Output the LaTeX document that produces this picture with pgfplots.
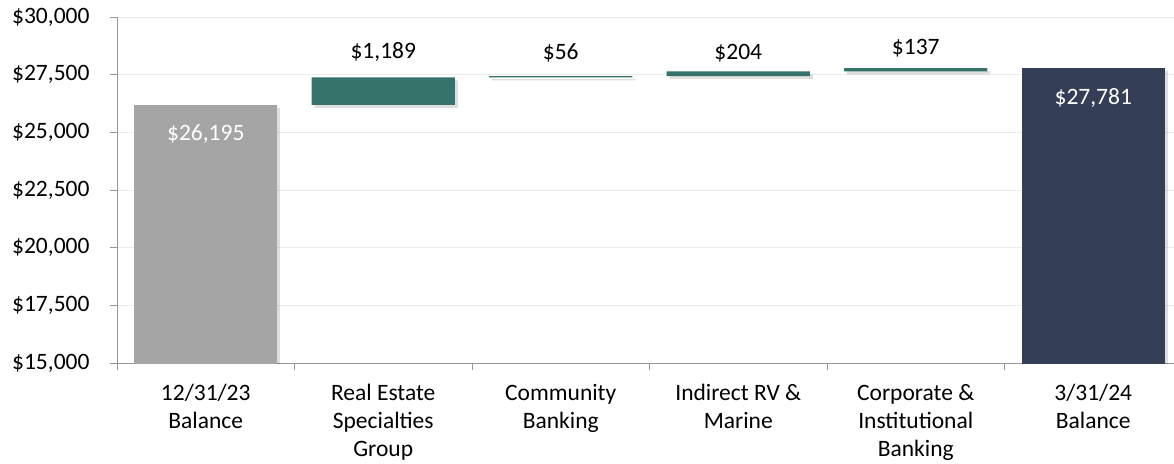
\documentclass[border=0pt]{standalone}
\usepackage{pgfplots}
\pgfplotsset{compat=1.18}
\usepackage{fontspec}
\setmainfont{Carlito}
\usetikzlibrary{shadows}
\definecolor{bargray}{RGB}{165,165,165}
\definecolor{barteal}{RGB}{54,115,106}
\definecolor{barnavy}{RGB}{52,63,87}
\definecolor{axgray}{RGB}{150,150,150}
\definecolor{gridgray}{RGB}{235,235,235}
\begin{document}
\begin{tikzpicture}[font=\fontsize{23.5}{28}\selectfont]
\begin{axis}[name=ax,
  scale only axis, width=1065pt, height=346pt,
  ybar stacked, bar width=0.806,
  xmin=-0.5, xmax=5.5, ymin=15000, ymax=30000,
  ytick={15000,17500,20000,22500,25000,27500,30000},
  scaled y ticks=false,
  yticklabel={\$\pgfmathprintnumber{\tick}},
  /pgf/number format/.cd, fixed, 1000 sep={,}, assume math mode=true,
  /pgfplots/.cd,
  xtick={0,1,2,3,4,5},
  xticklabels={{12/31/23\\Balance},{Real Estate\\Specialties\\Group},{Community\\Banking},{Indirect RV \&\\Marine},{Corporate \&\\Institutional\\Banking},{3/31/24\\Balance}},
  xticklabel style={align=center, font=\fontsize{23.5}{28}\selectfont, yshift=-11pt},
  yticklabel style={font=\fontsize{23.5}{28}\selectfont, xshift=-17pt},
  major x tick style={draw=none},
  minor xtick={-0.5,0.5,1.5,2.5,3.5,4.5,5.5},
  tick align=outside,
  major tick length=7pt, minor tick length=7pt,
  tick style={axgray, line width=0.8pt},
  axis x line*=bottom, axis y line*=left,
  axis line style={axgray, line width=0.8pt},
  ymajorgrids, grid style={gridgray, line width=0.6pt},
  every axis plot/.append style={draw=none},
  after end axis/.code={
    \node[white] at (axis cs:0,24930) {\$26,195};
    \node[black] at (axis cs:1,28500) {\$1,189};
    \node[black] at (axis cs:2,28440) {\$56};
    \node[black] at (axis cs:3,28440) {\$204};
    \node[black] at (axis cs:4,28650) {\$137};
    \node[white] at (axis cs:5,26510) {\$27,781};
  },
]
\addplot[fill=none, draw=none] coordinates {(0,0) (1,26195) (2,27384) (3,27440) (4,27644) (5,0)};
\addplot[fill=bargray, drop shadow={shadow xshift=3pt, shadow yshift=-3pt, fill=black, opacity=0.13}] coordinates {(0,26195) (1,0) (2,0) (3,0) (4,0) (5,0)};
\addplot[fill=barteal, drop shadow={shadow xshift=3pt, shadow yshift=-3pt, fill=black, opacity=0.13}] coordinates {(0,0) (1,1189) (2,56) (3,204) (4,137) (5,0)};
\addplot[fill=barnavy, drop shadow={shadow xshift=3pt, shadow yshift=-3pt, fill=black, opacity=0.13}] coordinates {(0,0) (1,0) (2,0) (3,0) (4,0) (5,27781)};
\end{axis}
\pgfresetboundingbox
\path[use as bounding box] ([xshift=-117pt,yshift=-100pt]ax.south west) rectangle ([xshift=-8pt,yshift=17pt]ax.north east);
\end{tikzpicture}
\end{document}
